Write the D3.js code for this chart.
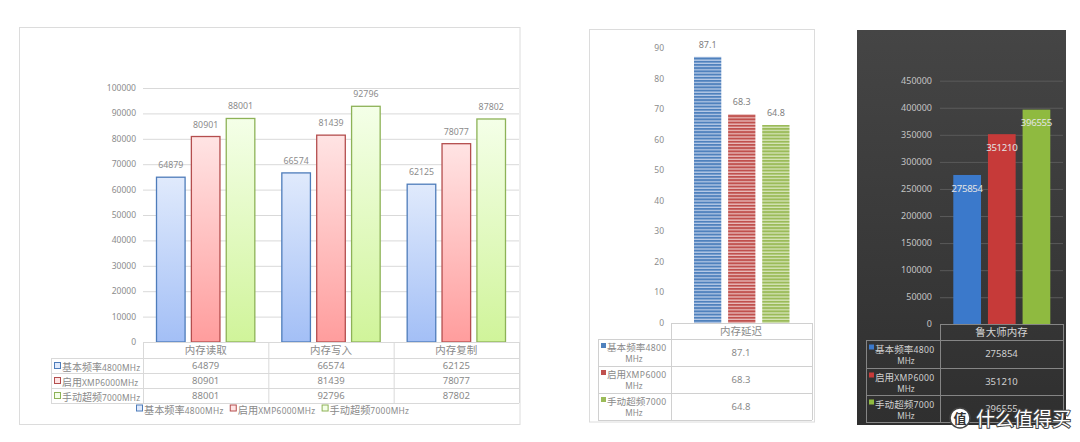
<!DOCTYPE html>
<html><head><meta charset="utf-8">
<script src="https://cdn.jsdelivr.net/npm/d3@7"></script>
<style>body{margin:0;background:#fff;} svg{display:block;font-family:"Noto Sans","Noto Sans CJK SC",sans-serif;}</style>
</head><body><svg id="c" width="1080" height="442"></svg>
<script>
// ---------- data ----------
const seriesNames = ['基本频率4800MHz','启用XMP6000MHz','手动超频7000MHz'];
const bandwidthCategories = ['内存读取','内存写入','内存复制'];
const base4800 = [64879, 66574, 62125];
const xmp6000 = [80901, 81439, 78077];
const oc7000 = [88001, 92796, 87802];
const latencyCategory = ['内存延迟'];
const latencyValues = [87.1, 68.3, 64.8];
const masterCategory = ['鲁大师内存'];
const masterValues = [275854, 351210, 396555];
const ticks1 = [0,10000,20000,30000,40000,50000,60000,70000,80000,90000,100000];
const ticks2 = [0,10,20,30,40,50,60,70,80,90];
const ticks3 = [0,50000,100000,150000,200000,250000,300000,350000,400000,450000];

const svg = d3.select('#c');
const defs = svg.append('defs');
const bandwidthSeries = [base4800, xmp6000, oc7000];

function splitName(n){ const m = n.match(/^([^\x00-\x7f]+)(.*)$/); return [m[1], m[2]]; }

// ================= Chart 1 =================
const c1 = {left:143, right:519, top:88, base:342, tableLeft:51};
const grad1 = [['#e0eafc','#a3bff6','#4e7cba'],['#ffe4e4','#ff9d9d','#b44e4e'],['#f4ffe8','#d0f49a','#8db257']];
grad1.forEach((g,i)=>{
  const lg = defs.append('linearGradient').attr('id','g1_'+i).attr('x1',0).attr('y1',0).attr('x2',0).attr('y2',1);
  lg.append('stop').attr('offset','0%').attr('stop-color',g[0]);
  lg.append('stop').attr('offset','100%').attr('stop-color',g[1]);
});
svg.append('rect').attr('x',19.5).attr('y',27.5).attr('width',500.5).attr('height',397).attr('fill','#fff').attr('stroke','#dcdcdc');
const y1 = d3.scaleLinear().domain([0,100000]).range([c1.base,c1.top]);
const x10 = d3.scaleBand().domain(bandwidthCategories).range([c1.left,c1.right]);
const x11 = d3.scaleBand().domain(seriesNames).range([13.5, x10.bandwidth()-13.5]).paddingInner(0.18);
const g1 = svg.append('g');
ticks1.forEach(t=>{
  if(t>0) g1.append('line').attr('x1',c1.left).attr('x2',c1.right).attr('y1',y1(t)+0.5).attr('y2',y1(t)+0.5).attr('stroke','#d9d9d9');
  g1.append('text').attr('x',136).attr('y',y1(t)).attr('dy','0.35em').attr('text-anchor','end').attr('font-size',8.5).attr('fill','#8c8c8c').text(t);
});
bandwidthCategories.forEach((cat,i)=>{
  seriesNames.forEach((s,j)=>{
    const v = bandwidthSeries[j][i];
    const x = x10(cat)+x11(s);
    g1.append('rect').attr('x',x).attr('y',y1(v)).attr('width',x11.bandwidth()).attr('height',c1.base-y1(v))
      .attr('fill','url(#g1_'+j+')').attr('stroke',grad1[j][2]).attr('stroke-width',1.3);
    g1.append('text').attr('x',x+x11.bandwidth()/2).attr('y',y1(v)-9).attr('text-anchor','middle').attr('font-size',8.8).attr('fill','#8c8c8c').text(v);
  });
});
// table 1
const t1Rows = [342,358,373,388,403];
const tcol = '#d9d9d9';
g1.append('line').attr('x1',c1.left).attr('x2',c1.right).attr('y1',342.5).attr('y2',342.5).attr('stroke',tcol);
t1Rows.slice(1).forEach(r=>g1.append('line').attr('x1',c1.tableLeft).attr('x2',c1.right).attr('y1',r+0.5).attr('y2',r+0.5).attr('stroke',tcol));
[c1.left, ...bandwidthCategories.map(c=>x10(c)+x10.bandwidth())].forEach(x=>g1.append('line').attr('x1',x+0.5).attr('x2',x+0.5).attr('y1',342).attr('y2',403).attr('stroke',tcol));
g1.append('line').attr('x1',c1.tableLeft+0.5).attr('x2',c1.tableLeft+0.5).attr('y1',358).attr('y2',403).attr('stroke',tcol);
bandwidthCategories.forEach((cat,i)=>{
  const cx = x10(cat)+x10.bandwidth()/2;
  g1.append('text').attr('x',cx).attr('y',350).attr('dy','0.35em').attr('text-anchor','middle').attr('font-size',10.5).attr('fill','#8a8a8a').attr('font-family','"Noto Sans CJK SC",sans-serif').text(cat);
  seriesNames.forEach((s,j)=>{
    g1.append('text').attr('x',cx).attr('y',(t1Rows[j+1]+t1Rows[j+2])/2).attr('dy','0.35em').attr('text-anchor','middle').attr('font-size',9.5).attr('fill','#8a8a8a').text(bandwidthSeries[j][i]);
  });
});
seriesNames.forEach((s,j)=>{
  const cy = (t1Rows[j+1]+t1Rows[j+2])/2;
  g1.append('rect').attr('x',54.5).attr('y',cy-3).attr('width',6).attr('height',6).attr('fill',grad1[j][0]).attr('stroke',grad1[j][2]);
  const [zh,lat] = splitName(s);
  const tx = g1.append('text').attr('x',62).attr('y',cy).attr('dy','0.35em').attr('fill','#8a8a8a');
  tx.append('tspan').attr('font-size',10).attr('font-family','"Noto Sans CJK SC",sans-serif').text(zh);
  tx.append('tspan').attr('font-size',8.4).attr('letter-spacing',0.2).text(lat);
});
// legend 1
let lx = 136;
seriesNames.forEach((s,j)=>{
  g1.append('rect').attr('x',lx+0.5).attr('y',405).attr('width',6).attr('height',6).attr('fill',grad1[j][0]).attr('stroke',grad1[j][2]);
  const [zh,lat] = splitName(s);
  const tx = g1.append('text').attr('x',lx+8).attr('y',408).attr('dy','0.35em').attr('fill','#8a8a8a');
  tx.append('tspan').attr('font-size',10.2).attr('font-family','"Noto Sans CJK SC",sans-serif').text(zh);
  tx.append('tspan').attr('font-size',8.4).attr('letter-spacing',0.3).text(lat);
  lx += 8 + tx.node().getComputedTextLength() + 6;
});

// ================= Chart 2 =================
const c2 = {left:671, right:812, top:48, base:323, tableLeft:598};
const col2 = [['#4f81bd','#c9d7ee'],['#c0504d','#f0cfce'],['#9bbb59','#e0ebc8']];
col2.forEach((c,i)=>{
  const p = defs.append('pattern').attr('id','p2_'+i).attr('patternUnits','userSpaceOnUse').attr('width',4).attr('height',3.2);
  p.append('rect').attr('width',4).attr('height',3.2).attr('fill',c[0]);
  p.append('rect').attr('y',2).attr('width',4).attr('height',1.1).attr('fill',c[1]);
});
svg.append('rect').attr('x',589.5).attr('y',29.5).attr('width',225).attr('height',392.5).attr('fill','#fff').attr('stroke','#dcdcdc');
const y2 = d3.scaleLinear().domain([0,90]).range([c2.base,c2.top]);
const x20 = d3.scaleBand().domain(latencyCategory).range([c2.left,c2.right]);
const x21 = d3.scaleBand().domain(seriesNames).range([23, x20.bandwidth()-22.5]).paddingInner(0.2);
const g2 = svg.append('g');
ticks2.forEach(t=>{
  g2.append('text').attr('x',664).attr('y',y2(t)).attr('dy','0.35em').attr('text-anchor','end').attr('font-size',8.5).attr('fill','#8c8c8c').text(t);
});
seriesNames.forEach((s,j)=>{
  const v = latencyValues[j];
  const x = x20(latencyCategory[0])+x21(s);
  g2.append('rect').attr('x',x).attr('y',y2(v)).attr('width',x21.bandwidth()).attr('height',c2.base-y2(v)).attr('fill','url(#p2_'+j+')');
  g2.append('text').attr('x',x+x21.bandwidth()/2).attr('y',y2(v)-9).attr('text-anchor','middle').attr('font-size',9).attr('fill','#7f7f7f').text(v);
});
const t2Rows = [323,339,366,393,420];
const t2c = '#d0d0d0';
g2.append('line').attr('x1',c2.left).attr('x2',c2.right).attr('y1',323.5).attr('y2',323.5).attr('stroke',t2c);
t2Rows.slice(1).forEach(r=>g2.append('line').attr('x1',c2.tableLeft).attr('x2',c2.right).attr('y1',r+0.5).attr('y2',r+0.5).attr('stroke',t2c));
[c2.left,c2.right].forEach(x=>g2.append('line').attr('x1',x+0.5).attr('x2',x+0.5).attr('y1',323).attr('y2',420).attr('stroke',t2c));
g2.append('line').attr('x1',c2.tableLeft+0.5).attr('x2',c2.tableLeft+0.5).attr('y1',339).attr('y2',420).attr('stroke',t2c);
g2.append('text').attr('x',741).attr('y',331).attr('dy','0.35em').attr('text-anchor','middle').attr('font-size',10.5).attr('fill','#8a8a8a').attr('font-family','"Noto Sans CJK SC",sans-serif').text(latencyCategory[0]);
seriesNames.forEach((s,j)=>{
  const top = t2Rows[j+1], bot = t2Rows[j+2];
  g2.append('text').attr('x',741).attr('y',(top+bot)/2).attr('dy','0.35em').attr('text-anchor','middle').attr('font-size',9.5).attr('fill','#8a8a8a').text(latencyValues[j]);
  g2.append('rect').attr('x',601).attr('y',top+4).attr('width',5).attr('height',5).attr('fill',col2[j][0]);
  const [zh,lat] = splitName(s);
  const tx = g2.append('text').attr('x',607).attr('y',top+6.5).attr('dy','0.35em').attr('fill','#8a8a8a');
  tx.append('tspan').attr('font-size',9.6).attr('font-family','"Noto Sans CJK SC",sans-serif').text(zh);
  tx.append('tspan').attr('font-size',8.6).attr('letter-spacing',0.4).text(lat.replace('MHz',''));
  g2.append('text').attr('x',634).attr('y',top+20.3).attr('dy','0.35em').attr('text-anchor','middle').attr('font-size',8.2).attr('fill','#8a8a8a').text('MHz');
});

// ================= Chart 3 =================
const c3 = {left:940, right:1063, top:80.7, base:324.3, tableLeft:866};
const col3 = ['#3b79cb','#c63a39','#8fba40'];
const bg = defs.append('linearGradient').attr('id','bg3').attr('x1',0).attr('y1',0).attr('x2',0).attr('y2',1);
bg.append('stop').attr('offset','0%').attr('stop-color','#454545');
bg.append('stop').attr('offset','100%').attr('stop-color','#2f2f2f');
svg.append('rect').attr('x',857).attr('y',30).attr('width',209).attr('height',395).attr('fill','url(#bg3)');
const y3 = d3.scaleLinear().domain([0,450000]).range([c3.base,c3.top]);
const x30 = d3.scaleBand().domain(masterCategory).range([c3.left,c3.right]);
const x31 = d3.scaleBand().domain(seriesNames).range([13.3, x30.bandwidth()-12.7]).paddingInner(0.2);
const g3 = svg.append('g');
ticks3.forEach(t=>{
  if(t>0) g3.append('line').attr('x1',c3.left).attr('x2',c3.right).attr('y1',y3(t)+0.5).attr('y2',y3(t)+0.5).attr('stroke','#5a5a5a');
  g3.append('text').attr('x',932).attr('y',y3(t)).attr('dy','0.35em').attr('text-anchor','end').attr('font-size',9).attr('fill','#c4c4c4').text(t);
});
seriesNames.forEach((s,j)=>{
  const v = masterValues[j];
  const x = x30(masterCategory[0])+x31(s);
  g3.append('rect').attr('x',x).attr('y',y3(v)).attr('width',x31.bandwidth()).attr('height',c3.base-y3(v)).attr('fill',col3[j]);
  g3.append('text').attr('x',x+x31.bandwidth()/2).attr('y',y3(v)+13.5).attr('dy','0.35em').attr('text-anchor','middle').attr('font-size',9.6).attr('letter-spacing',-0.3).attr('fill','#e4e4e4').text(v);
});
const t3Rows = [324,340,368,395,422];
const t3c = '#858585';
g3.append('line').attr('x1',c3.left).attr('x2',c3.right).attr('y1',324.5).attr('y2',324.5).attr('stroke',t3c);
t3Rows.slice(1).forEach(r=>g3.append('line').attr('x1',c3.tableLeft).attr('x2',c3.right).attr('y1',r+0.5).attr('y2',r+0.5).attr('stroke',t3c));
[c3.left,c3.right].forEach(x=>g3.append('line').attr('x1',x+0.5).attr('x2',x+0.5).attr('y1',324).attr('y2',422).attr('stroke',t3c));
g3.append('line').attr('x1',c3.tableLeft+0.5).attr('x2',c3.tableLeft+0.5).attr('y1',340).attr('y2',422).attr('stroke',t3c);
g3.append('text').attr('x',1001.5).attr('y',332).attr('dy','0.35em').attr('text-anchor','middle').attr('font-size',10.5).attr('fill','#d4d4d4').attr('font-family','"Noto Sans CJK SC",sans-serif').text(masterCategory[0]);
seriesNames.forEach((s,j)=>{
  const top = t3Rows[j+1], bot = t3Rows[j+2];
  g3.append('text').attr('x',1001.5).attr('y',(top+bot)/2).attr('dy','0.35em').attr('text-anchor','middle').attr('font-size',9.5).attr('fill','#d0d0d0').text(masterValues[j]);
  g3.append('rect').attr('x',869).attr('y',top+4.5).attr('width',5).attr('height',5).attr('fill',col3[j]);
  const [zh,lat] = splitName(s);
  const tx = g3.append('text').attr('x',875).attr('y',top+7).attr('dy','0.35em').attr('fill','#d0d0d0');
  tx.append('tspan').attr('font-size',9.6).attr('font-family','"Noto Sans CJK SC",sans-serif').text(zh);
  tx.append('tspan').attr('font-size',8.6).attr('letter-spacing',0.4).text(lat.replace('MHz',''));
  g3.append('text').attr('x',906).attr('y',top+20.8).attr('dy','0.35em').attr('text-anchor','middle').attr('font-size',8.2).attr('fill','#d0d0d0').text('MHz');
});
// watermark
const wm = svg.append('g');
wm.append('circle').attr('cx',960).attr('cy',418).attr('r',10).attr('fill','#fff').attr('stroke','#444').attr('stroke-width',1.5);
wm.append('text').attr('x',960).attr('y',418).attr('dy','0.36em').attr('text-anchor','middle').attr('font-size',13).attr('font-weight','bold').attr('fill','#333').attr('font-family','"Noto Sans CJK SC",sans-serif').text('值');
wm.append('text').attr('x',976).attr('y',419).attr('dy','0.38em').attr('font-size',19).attr('fill','#fff').attr('stroke','#444').attr('stroke-width',2).attr('paint-order','stroke').attr('font-family','"Noto Sans CJK SC",sans-serif').text('什么值得买');
</script></body></html>
